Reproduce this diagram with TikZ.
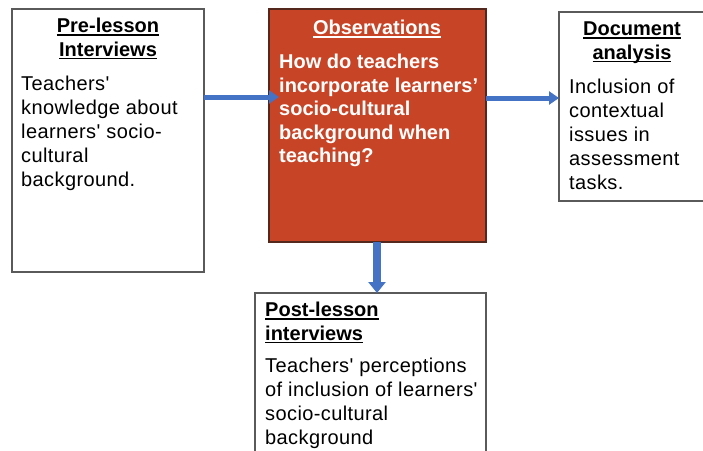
\documentclass[tikz,border=0pt]{standalone}
\usepackage{fontspec}
\setmainfont{Liberation Sans}
\newfontfamily\bodyfont[LetterSpace=2]{Liberation Sans}
\newcommand\myul[1]{\setbox0\hbox{#1}\rlap{\rule[-3pt]{\wd0}{1.5pt}}\box0}
\newcommand\apos{{\char"0027}}
\usetikzlibrary{arrows.meta}
\definecolor{obsred}{RGB}{200,68,38}
\definecolor{obsborder}{RGB}{85,40,30}
\definecolor{arrblue}{RGB}{68,114,196}
\definecolor{boxgray}{RGB}{90,90,90}
\tikzset{
  whitebox/.style={draw=boxgray, line width=1.3pt, fill=white, inner sep=0pt, outer sep=0pt, anchor=north west, rectangle},
  redbox/.style={draw=obsborder, line width=1.3pt, fill=obsred, inner sep=0pt, outer sep=0pt, anchor=north west, rectangle},
  titletext/.style={inner sep=0pt, font=\fontsize{20}{23.5}\selectfont\bfseries, align=center, anchor=north},
  lefttitle/.style={inner sep=0pt, font=\fontsize{20}{23.5}\selectfont\bfseries, align=left, anchor=north west},
  bodytext/.style={inner sep=0pt, font=\bodyfont\fontsize{20}{24}\selectfont, align=left, anchor=north west},
  redtext/.style={inner sep=0pt, font=\fontsize{20}{23.5}\selectfont\bfseries, align=left, anchor=north west, text=white},
  flow/.style={draw=arrblue, line width=5pt, -{Triangle[length=10pt,width=13pt]}},
  flowdown/.style={draw=arrblue, line width=7.5pt, -{Triangle[length=11pt,width=17pt]}}
}
\begin{document}
\begin{tikzpicture}[x=1pt,y=1pt]
\useasboundingbox (0,0) rectangle (703,-450);
\clip (0,0) rectangle (703,-450);
% boxes
\node[whitebox, minimum width=192pt, minimum height=263pt] (pre) at (12,-9) {};
\node[redbox, minimum width=217pt, minimum height=233pt] (obs) at (269,-9) {};
\node[whitebox, minimum width=150pt, minimum height=189pt] (doc) at (559,-12) {};
\node[whitebox, minimum width=231pt, minimum height=175pt] (post) at (255,-293) {};
% texts
\node[titletext] (pretitle) at (108,-18) {\myul{Pre-lesson}\\\myul{Interviews}};
\node[bodytext] (prebody) at (21,-76) {Teachers\apos\\knowledge about\\learners\apos{} socio-\\cultural\\background.};
\node[titletext, text=white] (obstitle) at (377,-20) {\myul{Observations}};
\node[redtext] (obsbody) at (279,-54) {How do teachers\\incorporate learners\apos\\socio-cultural\\background when\\teaching?};
\node[titletext] (doctitle) at (632,-22) {\myul{Document}\\\myul{analysis}};
\node[bodytext] (docbody) at (569,-79) {Inclusion of\\contextual\\issues in\\assessment\\tasks.};
\node[lefttitle] (posttitle) at (265,-302) {\myul{Post-lesson}\\\myul{interviews}};
\node[bodytext] (postbody) at (265,-358) {Teachers\apos{} perceptions\\of inclusion of learners\apos\\socio-cultural\\background};
% connectors
\coordinate (ya) at (0,-97);
\coordinate (yb) at (0,-98);
\coordinate (xc) at (377,0);
\draw[flow] (pre.east |- ya) -- ([xshift=10pt]obs.west |- ya);
\draw[flow] (obs.east |- yb) -- (doc.west |- yb);
\draw[flowdown] (obs.south -| xc) -- (post.north -| xc);
\end{tikzpicture}
\end{document}
